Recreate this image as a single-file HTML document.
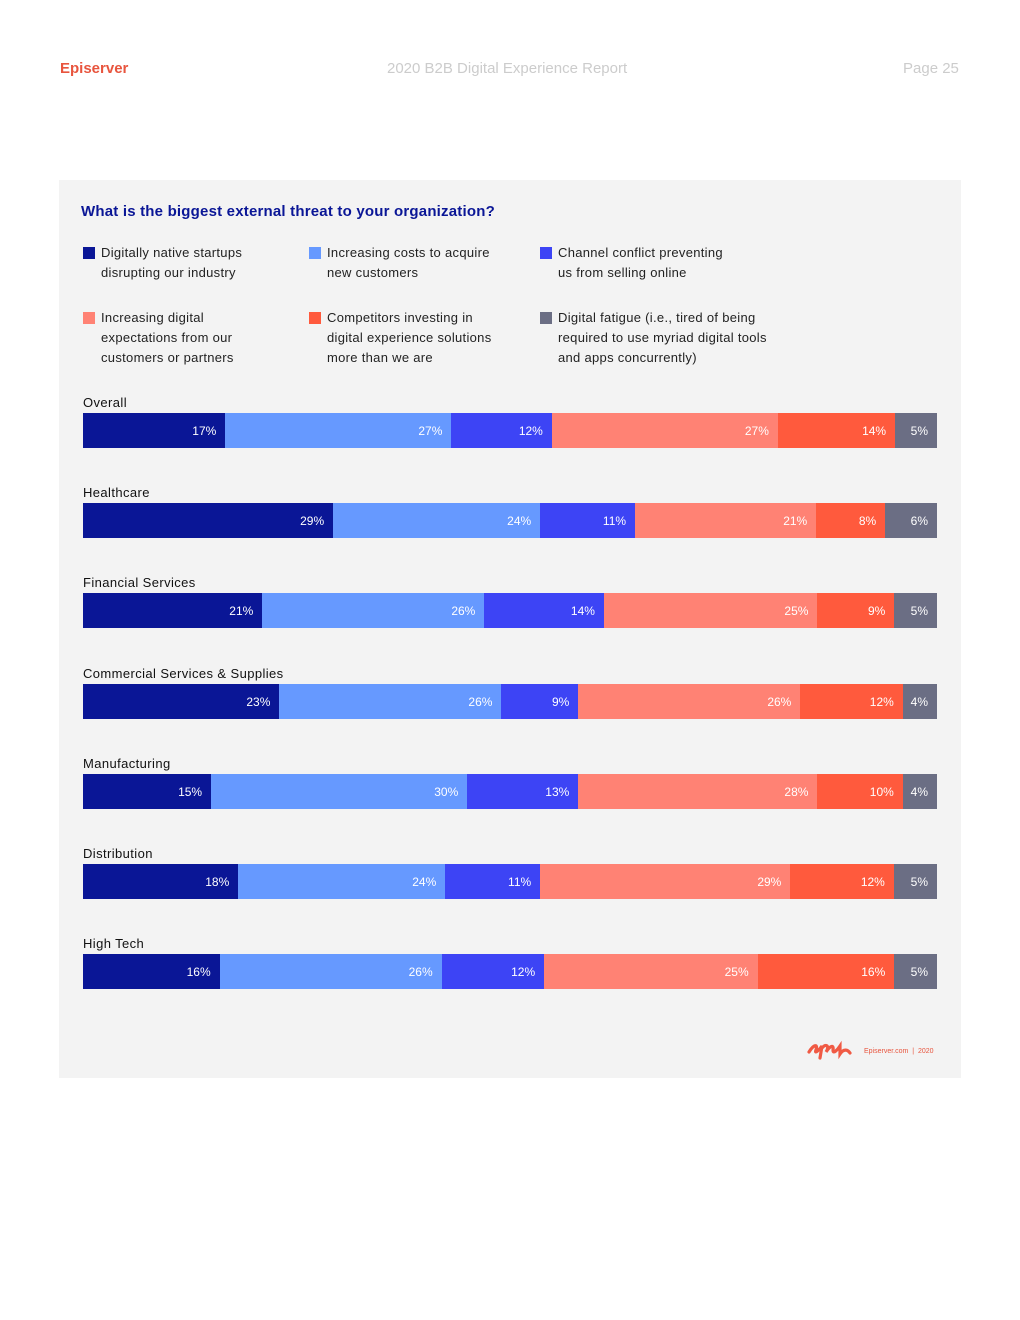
<!DOCTYPE html>
<html><head><meta charset="utf-8"><style>
body{margin:0;width:1020px;height:1320px;background:#fff;font-family:"Liberation Sans",sans-serif;position:relative;overflow:hidden}
.abs{position:absolute}
.hdr{top:60px;font-size:15px;color:#ccc}
.panel{left:59px;top:180px;width:902px;height:898px;background:#f3f3f3}
.leg{font-size:13px;color:#222;line-height:20px;letter-spacing:0.3px}
.sw{position:absolute;left:0;top:4px;width:12px;height:12px}
.cat{font-size:13px;color:#111;letter-spacing:0.4px}
.seg{position:absolute;height:35px}
.val{position:absolute;color:#fff;font-size:12px;line-height:35px;text-align:right}
</style></head><body>
<div class="abs hdr" style="left:60px;color:#e8553e;font-weight:bold">Episerver</div>
<div class="abs hdr" style="left:387px">2020 B2B Digital Experience Report</div>
<div class="abs hdr" style="left:903px">Page 25</div>
<div class="abs panel"></div>
<div class="abs" style="left:81px;top:203px;font-size:15px;font-weight:bold;color:#0a1696;letter-spacing:0.2px">What is the biggest external threat to your organization?</div>
<div id="legend"></div>
<div id="chart"></div>
<div class="abs" style="left:806px;top:1040px">
<svg width="46" height="22" viewBox="0 0 46 22"><path d="M3 12 C8 4,12 4,10 10 C8 15,14 9,16 6 L14 18 M16 8 C20 3,24 6,20 12 C24 6,28 4,27 10 C27 15,32 9,34 6 L34 14 C38 8,42 10,44 13" stroke="#f05a44" stroke-width="3.2" fill="none" stroke-linecap="round"/></svg></div>
<div class="abs" style="left:864px;top:1048px;font-size:7px;color:#e8553e">Episerver.com &nbsp;|&nbsp; 2020</div>
<script>
const categories=["Overall","Healthcare","Financial Services","Commercial Services & Supplies","Manufacturing","Distribution","High Tech"];
const seriesNames=["Digitally native startups<br>disrupting our industry","Increasing costs to acquire<br>new customers","Channel conflict preventing<br>us from selling online","Increasing digital<br>expectations from our<br>customers or partners","Competitors investing in<br>digital experience solutions<br>more than we are","Digital fatigue (i.e., tired of being<br>required to use myriad digital tools<br>and apps concurrently)"];
const startups=[17,29,21,23,15,18,16];
const costs=[27,24,26,26,30,24,26];
const channel=[12,11,14,9,13,11,12];
const expectations=[27,21,25,26,28,29,25];
const competitors=[14,8,9,12,10,12,16];
const fatigue=[5,6,5,4,4,5,5];
const series=[startups,costs,channel,expectations,competitors,fatigue];
const colors=["#0a1696","#6699ff","#3d44f5","#ff8274","#ff5a3d","#6b6e84"];
const legPos=[[83,243],[309,243],[540,243],[83,308],[309,308],[540,308]];
const lg=document.getElementById('legend');
seriesNames.forEach((n,i)=>{
 const d=document.createElement('div');
 d.className='abs leg';
 
 
 d.style.left=legPos[i][0]+'px';d.style.top=legPos[i][1]+'px';d.style.paddingLeft='18px';
 d.innerHTML='<span class="sw" style="background:'+colors[i]+'"></span>'+n;
 lg.appendChild(d);
});
const X0=83,W=854,Y0=413,STEP=90.17;
const ch=document.getElementById('chart');
categories.forEach((c,r)=>{
 const y=Y0+r*STEP;
 const l=document.createElement('div');
 l.className='abs cat';l.textContent=c;
 
 
 l.style.left='83px';l.style.top=(y-18)+'px';
 ch.appendChild(l);
 let tot=0;series.forEach(s=>tot+=s[r]);
 let x=X0;
 series.forEach((s,i)=>{
  const w=s[r]/tot*W;
  const b=document.createElement('div');
  b.className='seg';
  
  
  b.style.left=x+'px';b.style.top=y+'px';b.style.width=(w+0.5)+'px';b.style.background=colors[i];
  ch.appendChild(b);
  const v=document.createElement('div');
  v.className='val';v.textContent=s[r]+'%';
  
  
  v.style.left=x+'px';v.style.top=(y+1)+'px';v.style.width=(w-9)+'px';
  ch.appendChild(v);
  x+=w;
 });
});
</script>
</body></html>
